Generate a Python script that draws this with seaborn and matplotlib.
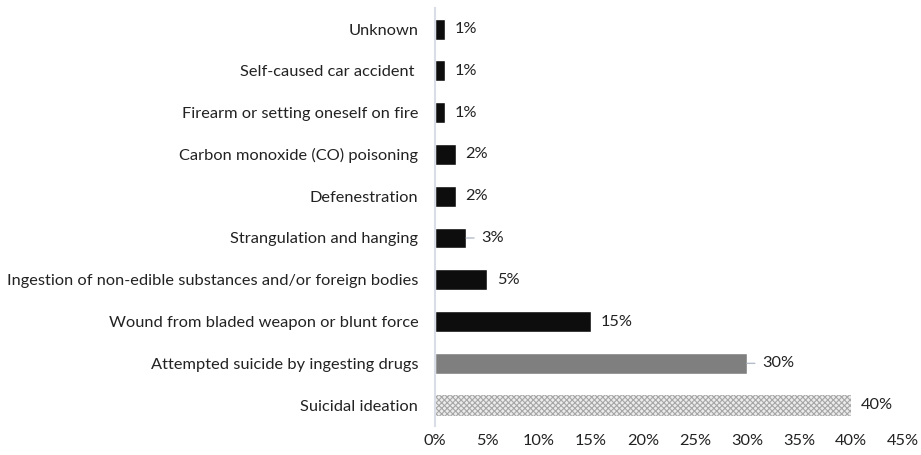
import matplotlib
matplotlib.use("Agg")
import matplotlib.pyplot as plt
import seaborn as sns
import pandas as pd

categories = [
    "Unknown",
    "Self-caused car accident ",
    "Firearm or setting oneself on fire",
    "Carbon monoxide (CO) poisoning",
    "Defenestration",
    "Strangulation and hanging",
    "Ingestion of non-edible substances and/or foreign bodies",
    "Wound from bladed weapon or blunt force",
    "Attempted suicide by ingesting drugs",
    "Suicidal ideation",
]
values = [1, 1, 1, 2, 2, 3, 5, 15, 30, 40]
bar_colors = ["#0d0d0d"] * 8 + ["#7f7f7f", "#ececec"]
leader = [False, False, False, False, False, True, False, False, True, False]
xticks = [0, 5, 10, 15, 20, 25, 30, 35, 40, 45]

sns.set_theme(style="white")
plt.rcParams["font.family"] = ["Lato", "DejaVu Sans"]
plt.rcParams["hatch.linewidth"] = 0.8

df = pd.DataFrame({"cat": categories, "val": values})

fig = plt.figure(figsize=(9.21, 4.55), dpi=100)
ax = fig.add_axes([0.4723, 0.0637, 0.9805 - 0.4723, 0.982 - 0.0637])
sns.barplot(data=df, y="cat", x="val", hue="cat", palette=bar_colors,
            legend=False, width=0.5, ax=ax, saturation=1)

# hatch the last bar
last = ax.patches[-1]
last.set_hatch("xxxxxx")
last.set_edgecolor("#a6a6a6")
last.set_linewidth(0)

txt_color = "#222222"
fs = 11.8
ax.set_xlim(0, 45)
ax.set_ylim(len(categories) - 0.5, -0.5)
ax.set_xticks(xticks)
ax.set_xticklabels([f"{t}%" for t in xticks], fontsize=fs, color=txt_color)
ax.tick_params(axis="y", labelsize=fs, labelcolor=txt_color, length=0, pad=12)
ax.tick_params(axis="x", length=0, pad=6)
ax.set_xlabel("")
ax.set_ylabel("")
for s in ["top", "right", "bottom"]:
    ax.spines[s].set_visible(False)
ax.spines["left"].set_color("#d9dee6")
ax.spines["left"].set_linewidth(1.5)

for i, (v, ld) in enumerate(zip(values, leader)):
    if ld:
        ax.annotate(f"{v}%", xy=(v, i), xytext=(11, 0), textcoords="offset points",
                    va="center", ha="left", fontsize=fs, color=txt_color,
                    arrowprops=dict(arrowstyle="-", color="#b4bcc8", lw=1,
                                    shrinkA=3, shrinkB=0))
    else:
        ax.annotate(f"{v}%", xy=(v, i), xytext=(7, 0), textcoords="offset points",
                    va="center", ha="left", fontsize=fs, color=txt_color)

fig.savefig("out.png", dpi=100)
